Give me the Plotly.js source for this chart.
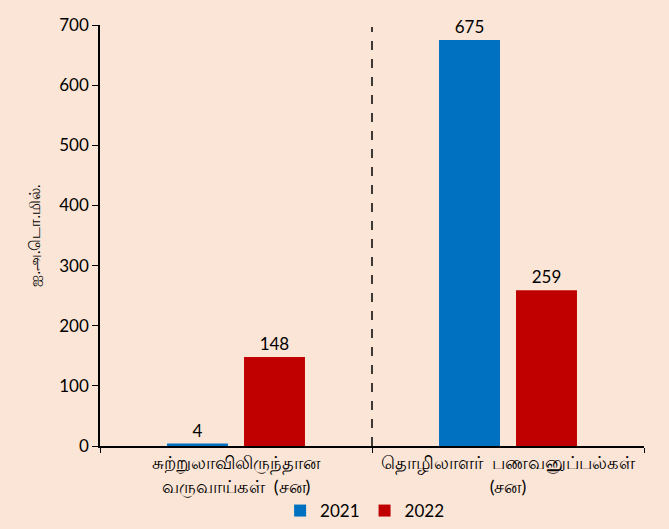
<!DOCTYPE html>
<html>
<head>
<meta charset="utf-8">
<script src="https://cdn.plot.ly/plotly-3.0.1.min.js"></script>
<style>html,body{margin:0;padding:0;background:#FBE5D6;}</style>
</head>
<body>
<div id="chart" style="width:669px;height:529px;"></div>
<script>
const categories = ["சுற்றுலாவிலிருந்தான<br>வருவாய்கள்  (சன)", "தொழிலாளர்  பணவனுப்பல்கள்<br>(சன)"];
const series2021 = [4, 675];
const series2022 = [148, 259];
const seriesNames = ["2021", "2022"];
const yTitle = "ஐ.அ.டொ.மில்.";

const font = "Lato, 'Noto Sans', 'Liberation Sans', sans-serif";

const traces = [
  {type: "bar", name: seriesNames[0], x: categories, y: series2021,
   marker: {color: "#0070C0"}, text: series2021.map(String), textposition: "outside",
   textfont: {size: 17, color: "#000"}, cliponaxis: false},
  {type: "bar", name: seriesNames[1], x: categories, y: series2022,
   marker: {color: "#C00000"}, text: series2022.map(String), textposition: "outside",
   textfont: {size: 17, color: "#000"}, cliponaxis: false}
];

const layout = {
  width: 669, height: 529,
  margin: {l: 100, r: 25, t: 25, b: 83},
  paper_bgcolor: "#FBE5D6", plot_bgcolor: "#FBE5D6",
  font: {family: font, color: "#000", size: 16},
  barmode: "group", bargap: 0.434, bargroupgap: 0.208,
  showlegend: true,
  legend: {orientation: "h", x: 0.545, xanchor: "center", xref: "container",
           y: 0.0, yanchor: "bottom", yref: "container",
           font: {size: 17}, traceorder: "normal", bgcolor: "rgba(0,0,0,0)"},
  xaxis: {type: "category", showline: true, linecolor: "#000", linewidth: 1.5,
          ticks: "outside", tickson: "boundaries", ticklen: 5, tickcolor: "#000",
          tickfont: {size: 18, family: font}, showgrid: false, automargin: false},
  yaxis: {range: [0, 700], dtick: 100, showline: true, linecolor: "#000", linewidth: 1.5,
          ticks: "outside", ticklen: 6, tickcolor: "#000", showgrid: false, zeroline: false,
          tickfont: {size: 17}, automargin: false,
          title: {text: yTitle, font: {size: 15}, standoff: 15}},
  shapes: [{type: "line", xref: "paper", yref: "paper", x0: 0.5, x1: 0.5, y0: 0, y1: 0.995,
            line: {color: "#000", width: 1.5, dash: "dash"}}]
};

Plotly.newPlot("chart", traces, layout, {displayModeBar: false});
</script>
</body>
</html>
